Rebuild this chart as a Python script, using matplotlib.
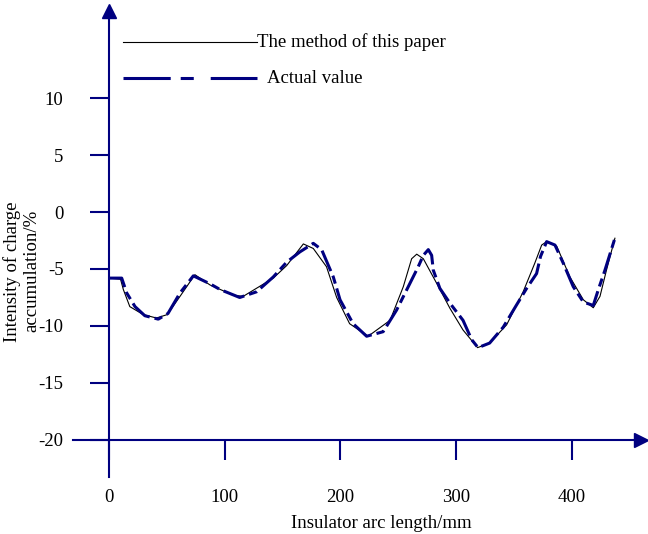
import numpy as np
import matplotlib
matplotlib.use('Agg')
import matplotlib.pyplot as plt

plt.rcParams['font.family'] = ['Liberation Serif', 'DejaVu Serif']
plt.rcParams['lines.scale_dashes'] = False

# data
method_x = [0, 10, 12.4, 18, 29.6, 41, 50.4, 61.4, 74.3, 87.3, 107.5, 116, 142,
            153.6, 168, 176.6, 188, 196.8, 208, 224, 243, 254.4, 261.6, 266,
            271.7, 283.2, 294.7, 306, 318.6, 329, 343.7, 358, 368, 374, 378.3,
            387, 398.4, 410, 418.6, 424.4, 430, 437.3]
method_y = [-5.8, -5.9, -6.8, -8.3, -9.0, -9.3, -9.0, -7.4, -5.5, -6.4, -7.3,
            -7.4, -5.8, -4.7, -2.8, -3.2, -4.8, -7.5, -9.8, -10.9, -9.5, -6.55,
            -4.1, -3.7, -4.1, -6.25, -8.45, -10.35, -11.9, -11.5, -9.9, -7.0,
            -4.5, -2.9, -2.6, -3.0, -5.7, -7.7, -8.4, -7.4, -5.1, -2.3]

actual_x = [0, 11, 15.3, 22.5, 31, 42.6, 51, 61.4, 72.9, 87.3, 96, 113, 127.6,
            142, 153.6, 165, 176.6, 183.8, 193.9, 199.7, 211, 222.7, 237,
            248.6, 258.7, 267.3, 271.7, 276, 278.9, 280.3, 286, 294.7, 306,
            313.5, 319, 329, 340.8, 352, 361, 369.6, 373, 378.3, 385.5, 392.7,
            401.3, 410, 418.6, 423, 428.7, 437.3]
actual_y = [-5.8, -5.8, -7.1, -8.3, -9.1, -9.4, -8.9, -7.1, -5.6, -6.3, -6.8,
            -7.5, -7.0, -5.7, -4.4, -3.5, -2.75, -3.3, -5.7, -7.7, -9.8, -10.9,
            -10.5, -8.6, -6.55, -4.8, -3.8, -3.3, -3.8, -5.1, -6.7, -8.0, -9.5,
            -11.2, -11.9, -11.5, -10.1, -8.2, -6.7, -5.4, -3.9, -2.6, -2.9,
            -4.5, -6.55, -7.9, -8.2, -6.8, -5.1, -2.3]

x_ticks = [0, 100, 200, 300, 400]
y_ticks = [10, 5, 0, -5, -10, -15, -20]

navy = '#000080'
fs = 13.5

fig = plt.figure(figsize=(6.48, 5.34), dpi=100)
ax = fig.add_axes([0, 0, 1, 1])
ax.set_xlim(-94.2, 465.9)
ax.set_ylim(-28.25, 18.6)
ax.patch.set_visible(False)

ax.spines['top'].set_visible(False)
ax.spines['right'].set_visible(False)
ax.spines['left'].set_position(('data', 0))
ax.spines['left'].set_bounds(-23.25, 17.6)
ax.spines['bottom'].set_position(('data', -20))
ax.spines['bottom'].set_bounds(-31.1, 460)
for s in ['left', 'bottom']:
    ax.spines[s].set_color(navy)
    ax.spines[s].set_linewidth(1.5)

# arrow heads
ax.plot(0, 17.6, marker='^', ms=10, color=navy, clip_on=False)
ax.plot(460.2, -20, marker='>', ms=10, color=navy, clip_on=False)

ax.set_xticks(x_ticks)
ax.set_yticks(y_ticks)
ax.set_xticklabels([str(v) for v in x_ticks])
ax.set_yticklabels([str(v) for v in y_ticks])
ax.tick_params(axis='x', direction='out', length=14.4, width=1.5, color=navy,
               pad=21, labelsize=fs)
ax.tick_params(axis='y', direction='out', length=13.7, width=1.5, color=navy,
               pad=19, labelsize=fs)

ax.plot(method_x, method_y, color='black', lw=0.8)
ax.plot(actual_x, actual_y, color=navy, lw=2.2, dashes=[16, 3.6, 6, 3.6])

# legend
ax.plot([12.1, 127.9], [14.9, 14.9], color='black', lw=0.8)
ax.text(127.9, 14.9, 'The method of this paper', fontsize=fs, va='center', ha='left')
ax.plot([12.1, 127.9], [11.75, 11.75], color=navy, lw=2.2,
        dashes=[34, 7.2, 9.4, 12.2, 34, 20])
ax.text(136.5, 11.75, 'Actual value', fontsize=fs, va='center', ha='left')

fig.text(0.034, 0.492, 'Intensity of charge\naccumulation/%', rotation=90,
         ha='center', va='center', multialignment='center', fontsize=fs)
fig.text(381.5 / 648, (534 - 523) / 534, 'Insulator arc length/mm',
         ha='center', va='center', fontsize=fs)

plt.savefig('out.png', dpi=100)
plt.close()
